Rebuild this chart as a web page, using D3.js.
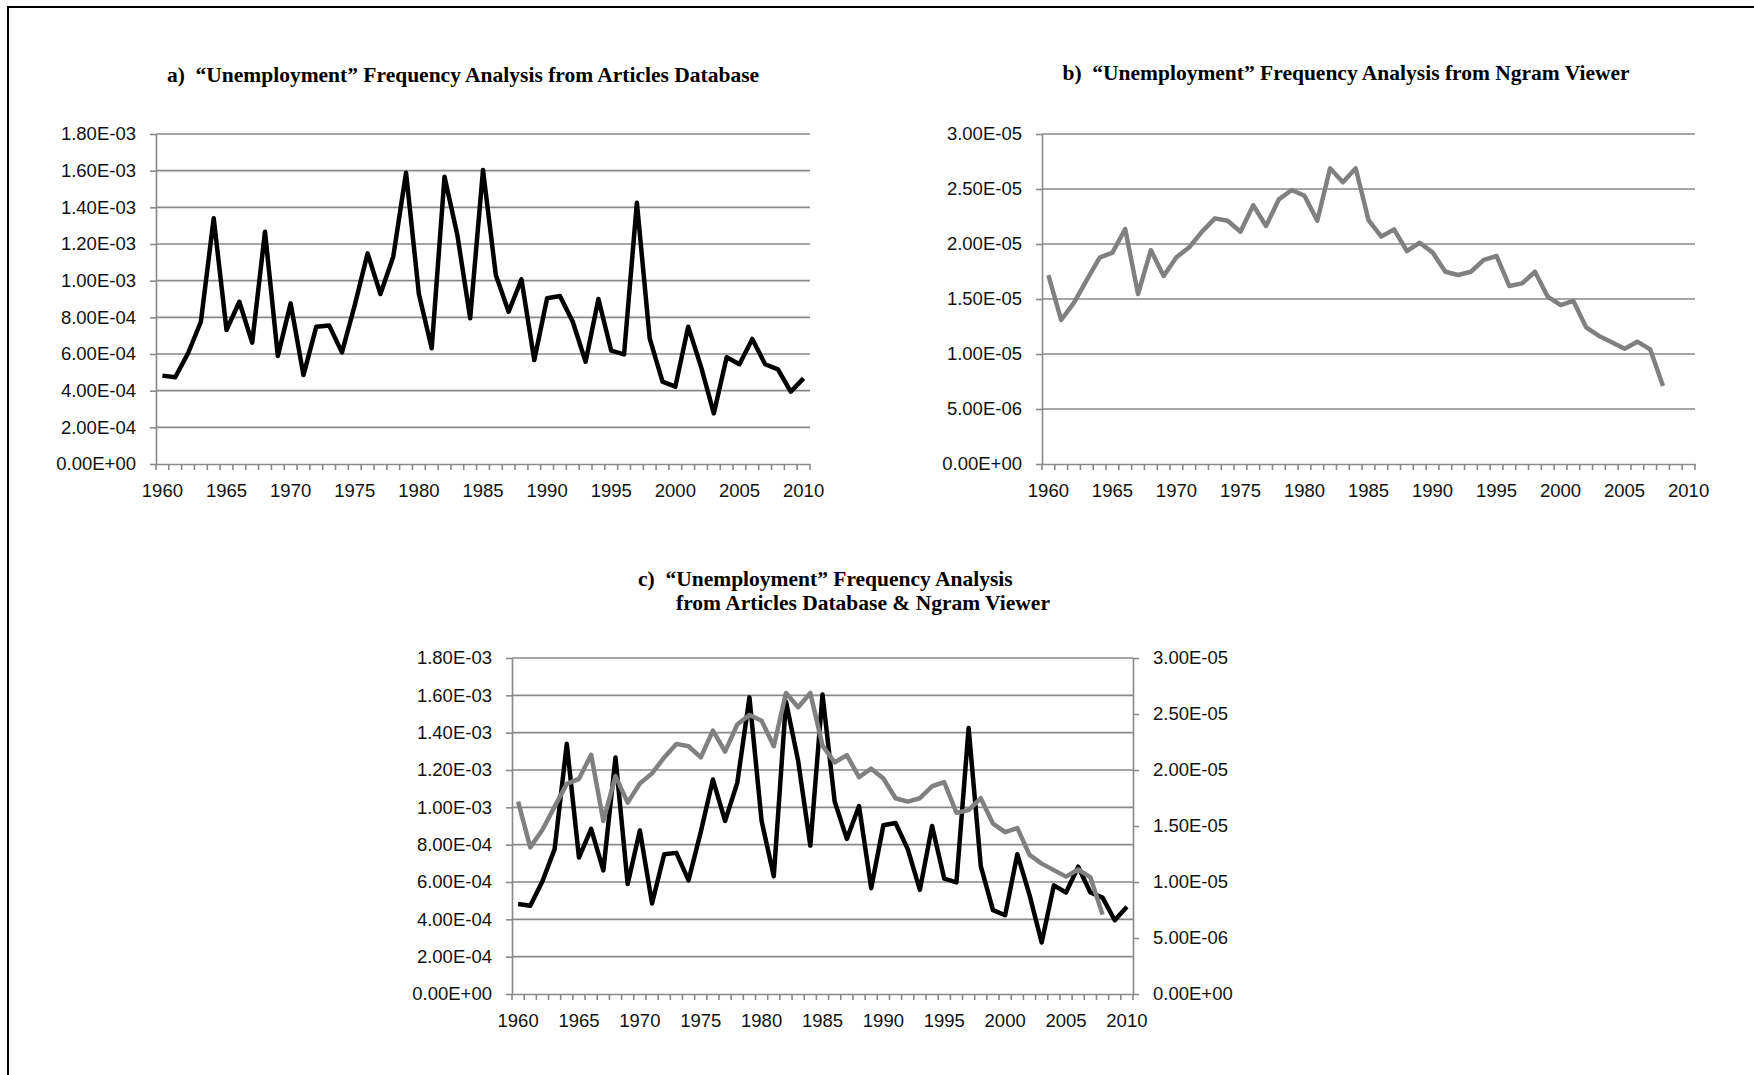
<!DOCTYPE html>
<html>
<head>
<meta charset="utf-8">
<script src="https://cdn.jsdelivr.net/npm/d3@7"></script>
<style>
  body { margin: 0; background: #fff; }
  .tick text { font-family: "Liberation Sans", Arial, sans-serif; font-size: 18.5px; fill: #111; }
  .title { font-family: "Liberation Serif", "Times New Roman", serif; font-weight: bold; font-size: 21.5px; fill: #000; white-space: pre; }
</style>
</head>
<body>
<script>
(function() {
	"use strict";
	const YEARS = [1960, 1961, 1962, 1963, 1964, 1965, 1966, 1967, 1968, 1969,
	               1970, 1971, 1972, 1973, 1974, 1975, 1976, 1977, 1978, 1979,
	               1980, 1981, 1982, 1983, 1984, 1985, 1986, 1987, 1988, 1989,
	               1990, 1991, 1992, 1993, 1994, 1995, 1996, 1997, 1998, 1999,
	               2000, 2001, 2002, 2003, 2004, 2005, 2006, 2007, 2008, 2009, 2010],
	   LABEL_YEARS = [1960, 1965, 1970, 1975, 1980, 1985, 1990, 1995, 2000, 2005, 2010],
	   // articles database frequency (x 1e-4), 1960-2010
	   ARTICLES = [4.82, 4.73, 6.04, 7.76, 13.4, 7.31, 8.85, 6.62, 12.67, 5.89,
	               8.76, 4.85, 7.49, 7.56, 6.09, 8.67, 11.49, 9.27, 11.31, 15.89,
	               9.27, 6.31, 15.67, 12.49, 7.95, 16.04, 10.31, 8.31, 10.07, 5.67,
	               9.04, 9.16, 7.76, 5.58, 9.0, 6.18, 5.98, 14.25, 6.85, 4.49,
	               4.22, 7.49, 5.31, 2.76, 5.82, 5.44, 6.82, 5.44, 5.16, 3.95, 4.67],
	   // ngram viewer frequency (x 1e-5), 1960-2008
	   NGRAM = [1.718, 1.309, 1.467, 1.673, 1.876, 1.921, 2.136, 1.545, 1.945, 1.709,
	            1.879, 1.970, 2.112, 2.233, 2.212, 2.112, 2.352, 2.164, 2.406, 2.491,
	            2.439, 2.212, 2.688, 2.561, 2.688, 2.218, 2.067, 2.133, 1.936, 2.012,
	            1.924, 1.748, 1.718, 1.748, 1.855, 1.891, 1.618, 1.642, 1.748, 1.521,
	            1.445, 1.482, 1.242, 1.164, 1.106, 1.048, 1.112, 1.042, 0.709],
	   ARTICLE_TICKS = [0, 2e-4, 4e-4, 6e-4, 8e-4, 1e-3, 1.2e-3, 1.4e-3, 1.6e-3, 1.8e-3],
	   NGRAM_TICKS = [0, 5e-6, 1e-5, 1.5e-5, 2e-5, 2.5e-5, 3e-5];

	const articles = ARTICLES.map((v, i) => ({ year: YEARS[i], v: v * 1e-4 })),
	   ngram = NGRAM.map((v, i) => ({ year: YEARS[i], v: v * 1e-5 }));

	const GRID = "#898989", BLACK = "#000", GREY = "#808080";

	function sci(d) {
		if (d === 0) return "0.00E+00";
		let [m, e] = d.toExponential(2).toUpperCase().split("E");
		let sign = e[0] === "-" ? "-" : "+";
		let n = e.replace(/[+-]/, "");
		return m + "E" + sign + (n.length < 2 ? "0" + n : n);
	}

	const svg = d3.select("body").append("svg").attr("width", 1754).attr("height", 1075);
	svg.append("rect").attr("width", 1754).attr("height", 1075).attr("fill", "#fff");
	svg.append("path").attr("d", "M8,1075V7H1754").attr("fill", "none")
	  .attr("stroke", "#000").attr("stroke-width", 2);

	function panel(o) {
		let g = svg.append("g");
		let x = d3.scaleBand().domain(YEARS).range([o.x0, o.x1]);
		let yL = d3.scaleLinear().domain([0, 1.8e-3]).range([o.y1, o.y0]);
		let yR = d3.scaleLinear().domain([0, 3e-5]).range([o.y1, o.y0]);
		let gridScale = o.left === "ngram" ? yR : yL,
		    gridTicks = o.left === "ngram" ? NGRAM_TICKS : ARTICLE_TICKS;

		// gridlines
		g.append("g").selectAll("line").data(gridTicks.slice(1)).enter().append("line")
		  .attr("x1", o.x0).attr("x2", o.x1)
		  .attr("y1", d => gridScale(d)).attr("y2", d => gridScale(d))
		  .attr("stroke", GRID).attr("stroke-width", 1.6);

		// left axis
		g.append("g").attr("transform", `translate(${o.x0},0)`)
		  .call(d3.axisLeft(gridScale).tickValues(gridTicks).tickFormat(sci)
		    .tickSize(6).tickSizeOuter(0).tickPadding(14));
		// right axis (combined chart)
		if (o.right) {
			g.append("g").attr("transform", `translate(${o.x1},0)`)
			  .call(d3.axisRight(yR).tickValues(NGRAM_TICKS).tickFormat(sci)
			    .tickSize(6).tickSizeOuter(0).tickPadding(14));
		}
		// x axis
		g.append("g").attr("transform", `translate(0,${o.y1})`)
		  .call(d3.axisBottom(x).tickValues(LABEL_YEARS).tickSize(0).tickPadding(20));
		g.append("g").selectAll("line").data(YEARS.concat(["end"])).enter().append("line")
		  .attr("x1", d => d === "end" ? o.x1 : x(d)).attr("x2", d => d === "end" ? o.x1 : x(d))
		  .attr("y1", o.y1).attr("y2", o.y1 + 6)
		  .attr("stroke", GRID).attr("stroke-width", 1.6);

		g.selectAll(".domain").attr("stroke", GRID).attr("stroke-width", 1.6);
		g.selectAll(".tick line").attr("stroke", GRID).attr("stroke-width", 1.6);

		let cx = d => x(d.year) + x.bandwidth() / 2;
		let draw = (data, scale, color) => g.append("path").datum(data)
		  .attr("d", d3.line().x(cx).y(d => scale(d.v)))
		  .attr("fill", "none").attr("stroke", color).attr("stroke-width", 4.5)
		  .attr("stroke-linejoin", "round");
		o.series.forEach(s => {
			if (s === "articles") draw(articles, yL, BLACK);
			else draw(ngram, yR, GREY);
		});
	}

	panel({ x0: 156, x1: 810, y0: 134, y1: 464, left: "articles", series: ["articles"] });
	panel({ x0: 1042, x1: 1695, y0: 134, y1: 464, left: "ngram", series: ["ngram"] });
	panel({ x0: 512, x1: 1133, y0: 658, y1: 994, left: "articles", right: true,
	        series: ["articles", "ngram"] });

	svg.append("text").attr("class", "title").attr("x", 463).attr("y", 82)
	  .attr("text-anchor", "middle").text("a)  \u201cUnemployment\u201d Frequency Analysis from Articles Database");
	svg.append("text").attr("class", "title").attr("x", 1346).attr("y", 80)
	  .attr("text-anchor", "middle").text("b)  \u201cUnemployment\u201d Frequency Analysis from Ngram Viewer");
	svg.append("text").attr("class", "title").attr("x", 638).attr("y", 586)
	  .text("c)  \u201cUnemployment\u201d Frequency Analysis");
	svg.append("text").attr("class", "title").attr("x", 676).attr("y", 610)
	  .text("from Articles Database & Ngram Viewer");
}());
</script>
</body>
</html>
